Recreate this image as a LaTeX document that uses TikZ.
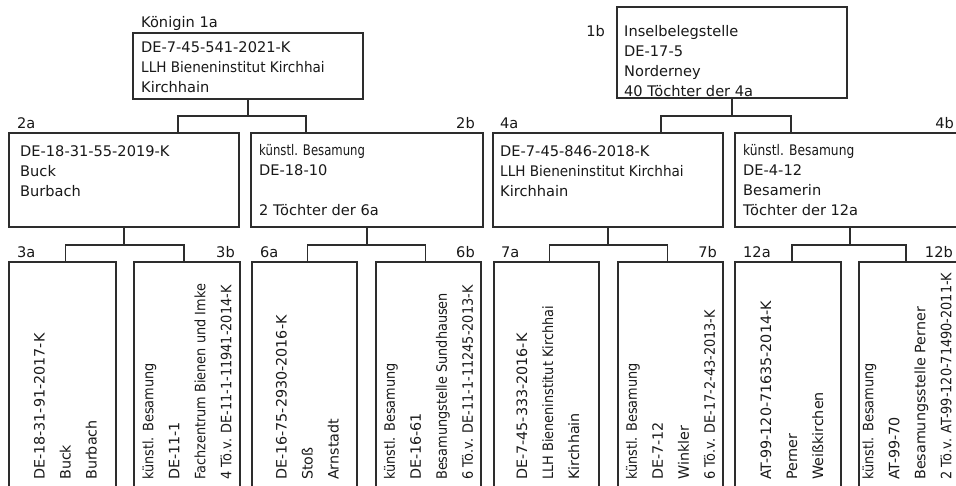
\documentclass[tikz,border=0pt]{standalone}
\usepackage{graphicx}
\usepackage{fontspec}
\setmainfont{DejaVu Sans}
\usetikzlibrary{positioning}
\definecolor{cLine}{RGB}{45,45,45}
\definecolor{tDark}{RGB}{25,25,25}
\newcommand{\narrowed}[2]{\scalebox{#1}[1]{#2}}

\begin{document}
\begin{tikzpicture}[
    x=1pt, y=-1pt,
    font=\fontsize{14.6}{20}\selectfont,
    text=tDark,
    box/.style={
        draw=cLine,
        line width=1.2pt,
        inner sep=0pt,
        outer sep=0pt,
        anchor=north west,
        minimum width=#1
    },
    wide/.style={box=#1, minimum height=94pt},
    tall/.style={box=#1, minimum height=240pt},
    htxt/.style={align=left, inner sep=0pt},
    vtxt/.style={align=left, inner sep=0pt, rotate=90, anchor=west,
        font=\fontsize{14.3}{26}\selectfont},
    tag/.style={inner sep=0pt},
    link/.style={draw=cLine, line width=1.2pt}
]

\path[fill=white, use as bounding box] (0,0) rectangle (956,486);
\clip (0,0) rectangle (956,486);

% Generation 1
\node[box=230pt, minimum height=66pt] (q1a) at (133,33) {};
\node[box=230pt, minimum height=91pt] (q1b) at (617,7) {};
\node[tag, anchor=base west] (l1a) at ([shift={(8pt,5pt)}]q1a.north west) {Königin 1a};
\node[tag, anchor=base east] (l1b) at ([shift={(-12pt,-30pt)}]q1b.north west) {1b};

\node[htxt, below right=8pt and 8pt of q1a.north west] (t1a) {
    DE-7-45-541-2021-K\\
    \narrowed{0.93}{LLH Bieneninstitut Kirchhai}\\
    Kirchhain
};
\node[htxt, below right=18pt and 7pt of q1b.north west] (t1b) {
    Inselbelegstelle\\
    DE-17-5\\
    Norderney\\
    40 Töchter der 4a
};

% Generation 2
\node[wide=230pt] (q2a) at (9,133) {};
\node[wide=232pt, right=12pt of q2a] (q2b) {};
\node[wide=230pt, right=10pt of q2b] (q4a) {};
\node[wide=230pt, right=12pt of q4a] (q4b) {};

\node[tag, anchor=base west] (l2a) at ([shift={(8pt,4pt)}]q2a.north west) {2a};
\node[tag, anchor=base east] (l2b) at ([shift={(-8pt,4pt)}]q2b.north east) {2b};
\node[tag, anchor=base west] (l4a) at ([shift={(7pt,4pt)}]q4a.north west) {4a};
\node[tag, anchor=base east] (l4b) at ([shift={(-11pt,4pt)}]q4b.north east) {4b};

\node[htxt, below right=12pt and 11pt of q2a.north west] (t2a) {
    DE-18-31-55-2019-K\\
    Buck\\
    Burbach
};
\node[htxt, below right=11.5pt and 8pt of q2b.north west] (t2b) {
    \narrowed{0.8}{künstl. Besamung}\\
    DE-18-10\\[20pt]
    2 Töchter der 6a
};
\node[htxt, below right=12pt and 7pt of q4a.north west] (t4a) {
    DE-7-45-846-2018-K\\
    \narrowed{0.93}{LLH Bieneninstitut Kirchhai}\\
    Kirchhain
};
\node[htxt, below right=11.5pt and 8pt of q4b.north west] (t4b) {
    \narrowed{0.84}{künstl. Besamung}\\
    DE-4-12\\
    Besamerin\\
    Töchter der 12a
};

\draw[link] (q1a.south) -- ++(0,17) coordinate (j1a);
\draw[link] ([xshift=169pt]q2a.north west) |- (j1a) -| ([xshift=55pt]q2b.north west);
\draw[link] (q1b.south) -- ++(0,18) coordinate (j1b);
\draw[link] ([xshift=168pt]q4a.north west) |- (j1b) -| ([xshift=56pt]q4b.north west);

% Generation 3
\node[tall=107pt] (q3a) at (9,262) {};
\node[tall=106pt, right=18pt of q3a] (q3b) {};
\node[tall=105pt, right=12pt of q3b] (q6a) {};
\node[tall=105pt, right=19pt of q6a] (q6b) {};
\node[tall=105pt, right=13pt of q6b] (q7a) {};
\node[tall=105pt, right=19pt of q7a] (q7b) {};
\node[tall=106pt, right=12pt of q7b] (q12a) {};
\node[tall=106pt, right=18pt of q12a] (q12b) {};

\node[tag, anchor=base west] (l3a) at ([shift={(8pt,4pt)}]q3a.north west) {3a};
\node[tag, anchor=base east] (l3b) at ([shift={(-5pt,4pt)}]q3b.north east) {3b};
\node[tag, anchor=base west] (l6a) at ([shift={(8pt,4pt)}]q6a.north west) {6a};
\node[tag, anchor=base east] (l6b) at ([shift={(-6pt,4pt)}]q6b.north east) {6b};
\node[tag, anchor=base west] (l7a) at ([shift={(7pt,4pt)}]q7a.north west) {7a};
\node[tag, anchor=base east] (l7b) at ([shift={(-6pt,4pt)}]q7b.north east) {7b};
\node[tag, anchor=base west] (l12a) at ([shift={(8pt,4pt)}]q12a.north west) {12a};
\node[tag, anchor=base east] (l12b) at ([shift={(-12pt,4pt)}]q12b.north east) {12b};

\draw[link] (q2a.south) -- ++(0,18) coordinate (j2a);
\draw[link] ([xshift=3pt]q3a.north) |- (j2a) -| ([xshift=-3pt]q3b.north);
\draw[link] (q2b.south) -- ++(0,18) coordinate (j2b);
\draw[link] ([xshift=3pt]q6a.north) |- (j2b) -| ([xshift=-3pt]q6b.north);
\draw[link] (q4a.south) -- ++(0,18) coordinate (j4a);
\draw[link] ([xshift=3pt]q7a.north) |- (j4a) -| ([xshift=-3pt]q7b.north);
\draw[link] (q4b.south) -- ++(0,18) coordinate (j4b);
\draw[link] ([xshift=4pt]q12a.north) |- (j4b) -| ([xshift=-6pt]q12b.north);

\node[vtxt] (t3a) at ([shift={(3pt,22pt)}]q3a.south) {
    DE-18-31-91-2017-K\\
    Buck\\
    Burbach
};
\node[vtxt] (t3b) at ([yshift=22pt]q3b.south) {
    \narrowed{0.9}{künstl. Besamung}\\
    DE-11-1\\
    \narrowed{0.9}{Fachzentrum Bienen und Imke}\\
    \narrowed{0.9}{4 Tö.v. DE-11-1-11941-2014-K}
};
\node[vtxt] (t6a) at ([shift={(3pt,22pt)}]q6a.south) {
    DE-16-75-2930-2016-K\\
    Stoß\\
    Arnstadt
};
\node[vtxt] (t6b) at ([yshift=22pt]q6b.south) {
    \narrowed{0.9}{künstl. Besamung}\\
    DE-16-61\\
    \narrowed{0.9}{Besamungstelle Sundhausen}\\
    \narrowed{0.9}{6 Tö.v. DE-11-1-11245-2013-K}
};
\node[vtxt] (t7a) at ([shift={(1.5pt,22pt)}]q7a.south) {
    DE-7-45-333-2016-K\\
    \narrowed{0.9}{LLH Bieneninstitut Kirchhai}\\
    Kirchhain
};
\node[vtxt] (t7b) at ([yshift=22pt]q7b.south) {
    \narrowed{0.9}{künstl. Besamung}\\
    DE-7-12\\
    Winkler\\
    \narrowed{0.9}{6 Tö.v. DE-17-2-43-2013-K}
};
\node[vtxt] (t12a) at ([shift={(4pt,22pt)}]q12a.south) {
    AT-99-120-71635-2014-K\\
    Perner\\
    Weißkirchen
};
\node[vtxt] (t12b) at ([shift={(-5pt,22pt)}]q12b.south) {
    \narrowed{0.9}{künstl. Besamung}\\
    AT-99-70\\
    Besamungsstelle Perner\\
    \narrowed{0.9}{2 Tö.v. AT-99-120-71490-2011-K}
};

\end{tikzpicture}
\end{document}
